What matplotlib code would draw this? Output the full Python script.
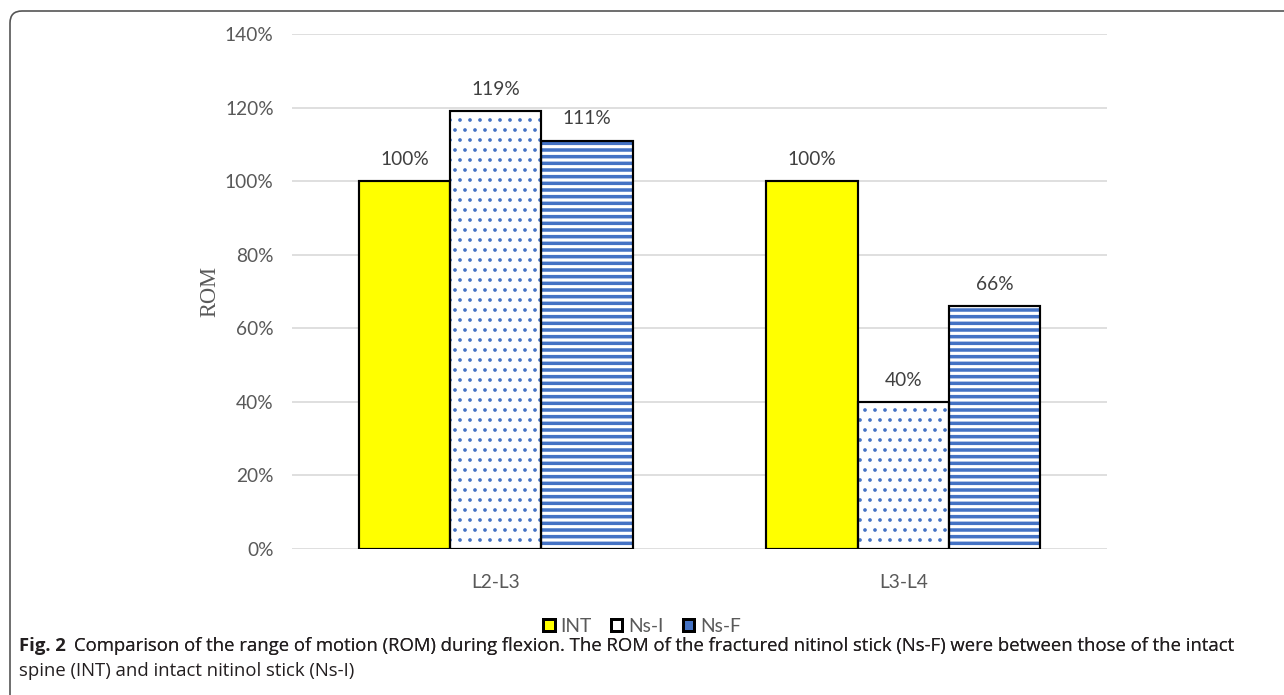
import matplotlib
matplotlib.use('Agg')
import matplotlib.pyplot as plt
import numpy as np
from matplotlib.patches import FancyBboxPatch, Patch
from matplotlib.ticker import PercentFormatter

segments = ['L2-L3', 'L3-L4']
int_rom = [100, 100]
nsi_rom = [119, 40]
nsf_rom = [111, 66]

# name, values, face colour, hatch, hatch colour, hatch line width
series = [
    ('INT', int_rom, '#FFFF00', None, None, 1.0),
    ('Ns-I', nsi_rom, 'white', '..', '#4472C4', 1.0),
    ('Ns-F', nsf_rom, 'white', '---', '#4472C4', 2.1),
]

DPI = 120
fig = plt.figure(figsize=(1284 / DPI, 695 / DPI), dpi=DPI)
ax = fig.add_axes([292 / 1284, 1 - 549 / 695, (1107 - 292) / 1284, (549 - 34) / 695])

label_font = 'Lato'
gray = '#595959'
fs = 11.5

x = np.arange(len(segments))
width = 0.224
for i, (name, vals, face, hatch, hcol, hlw) in enumerate(series):
    pos = x + (i - 1) * width
    # fill + hatch first, then a plain black outline on top
    with plt.rc_context({'hatch.linewidth': hlw}):
        bars = ax.bar(pos, vals, width, color=face, hatch=hatch,
                      edgecolor=hcol if hcol else face, linewidth=0, zorder=2)
    for b in bars:
        if hasattr(b, 'set_hatch_linewidth'):
            b.set_hatch_linewidth(hlw)
    ax.bar(pos, vals, width, fill=False, edgecolor='black', linewidth=1.3, zorder=3)
    for p, v in zip(pos, vals):
        ax.annotate(f'{v}%', (p, v), xytext=(0, 8), textcoords='offset points',
                    ha='center', va='bottom', fontsize=fs, color='#404040',
                    family=label_font)

ax.set_xlim(-0.5, 1.5)
ax.set_ylim(0, 140)
ax.set_yticks(np.arange(0, 141, 20))
ax.yaxis.set_major_formatter(PercentFormatter(decimals=0))
ax.set_xticks(x)
ax.set_xticklabels(segments)
ax.tick_params(axis='both', length=0, labelsize=fs, labelcolor=gray)
ax.tick_params(axis='y', pad=11)
ax.tick_params(axis='x', pad=15)
for lab in ax.get_xticklabels() + ax.get_yticklabels():
    lab.set_family(label_font)
ax.grid(axis='y', color='#D9D9D9', linewidth=1.0, zorder=0)
ax.set_axisbelow(True)
for s in ax.spines.values():
    s.set_visible(False)
ax.set_ylabel('ROM', family='Liberation Serif', fontsize=13.5, color=gray, labelpad=3)

handles = [Patch(facecolor='#FFFF00', edgecolor='black', linewidth=1.8),
           Patch(facecolor='white', edgecolor='black', linewidth=1.8),
           Patch(facecolor='#4472C4', edgecolor='black', linewidth=1.8)]
fig.legend(handles, [s[0] for s in series], loc='center', bbox_to_anchor=(0.5, 1 - 626 / 695),
           ncol=3, frameon=False, handlelength=0.6, handleheight=0.6, handletextpad=0.3,
           columnspacing=1.0, prop={'family': label_font, 'size': fs}, labelcolor=gray)

# caption
cap_font = 'Open Sans'
cfs = 11.1
t1 = fig.text(19 / 1284, 1 - 655 / 695, 'Fig. 2', fontsize=cfs, weight='bold',
              family=cap_font, color='#231F20', va='bottom')
fig.texts.append(ax.annotate(
    'Comparison of the range of motion (ROM) during flexion. The ROM of the fractured nitinol stick (Ns-F) were between those of the intact',
    xy=(1, 0), xycoords=t1, xytext=(5, 0), textcoords='offset points',
    fontsize=cfs, family=cap_font, color='#231F20', va='bottom', annotation_clip=False))
fig.text(19 / 1284, 1 - 680 / 695, 'spine (INT) and intact nitinol stick (Ns-I)', fontsize=cfs,
         family=cap_font, color='#231F20', va='bottom')

# rounded frame open to the right and bottom
frame = FancyBboxPatch((10 / DPI, -0.5), 20, (695 - 11) / DPI + 0.5,
                       boxstyle='round,pad=0,rounding_size=0.1',
                       transform=fig.dpi_scale_trans, fill=False,
                       edgecolor='#555555', linewidth=1.0)
fig.patches.append(frame)

fig.savefig('out.png', dpi=DPI)
